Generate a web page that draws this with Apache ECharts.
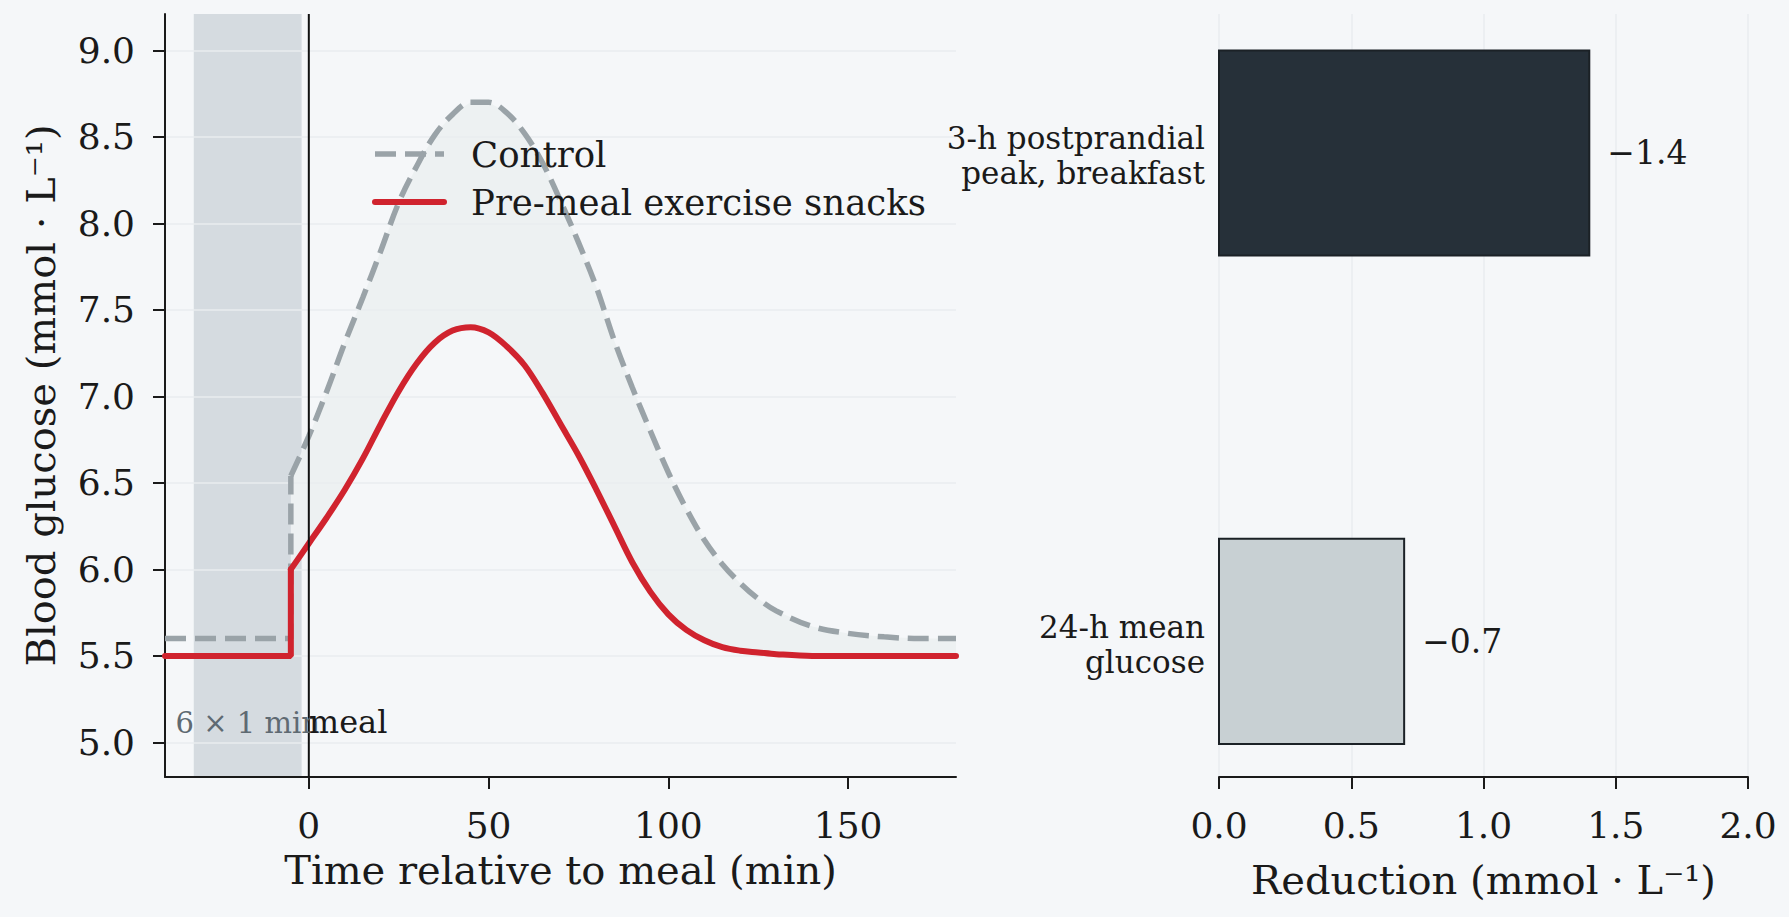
<!DOCTYPE html>
<html><head><meta charset="utf-8">
<script src="https://cdn.jsdelivr.net/npm/echarts@6/dist/echarts.min.js"></script>
<style>html,body{margin:0;padding:0;background:#f5f7f9;}#c{width:1789px;height:917px;}</style>
</head><body><div id="c"></div>
<script>
// ---- data ----
const timeMin = [-40, -5, -5, 0, 5, 10, 15, 20, 25, 30, 35, 40, 45, 50, 55, 60, 65, 70, 75, 80, 85, 90, 95, 100, 105, 110, 115, 120, 125, 130, 140, 150, 160, 170, 180];
const controlGlucose = [5.6, 5.6, 6.54, 6.77, 7.03, 7.31, 7.57, 7.84, 8.12, 8.33, 8.51, 8.63, 8.70, 8.70, 8.64, 8.52, 8.35, 8.13, 7.89, 7.63, 7.32, 7.05, 6.80, 6.56, 6.35, 6.17, 6.03, 5.92, 5.83, 5.76, 5.67, 5.63, 5.61, 5.60, 5.60];
const snacksGlucose = [5.5, 5.5, 6.0, 6.15, 6.30, 6.46, 6.64, 6.84, 7.03, 7.19, 7.31, 7.38, 7.40, 7.37, 7.29, 7.18, 7.02, 6.84, 6.66, 6.46, 6.25, 6.04, 5.87, 5.74, 5.65, 5.59, 5.55, 5.53, 5.52, 5.51, 5.50, 5.50, 5.50, 5.50, 5.50];
const exerciseWindow = [-32, -2];
const mealTime = 0;
const xTicks = [0, 50, 100, 150];
const yTicks = [5.0, 5.5, 6.0, 6.5, 7.0, 7.5, 8.0, 8.5, 9.0];
const seriesNames = ['Control', 'Pre-meal exercise snacks'];
const outcomeLabels = ['3-h postprandial\npeak, breakfast', '24-h mean\nglucose'];
const reductions = [1.4, 0.7];
const reductionLabels = ['\u22121.4', '\u22120.7'];
const reductionTicks = [0, 0.5, 1.0, 1.5, 2.0];

// ---- styles ----
const FONT = 'DejaVu Serif';
const INK = '#1a1a1a';
const GRID = '#e8ecef';
const GREY = '#9aa3a8';
const RED = '#d0232e';
const barColors = ['#263039', '#c8d0d3'];
const BAR_HALF = 0.21;
const JUMP = 2; // index where the post-exercise rise starts

const chart = echarts.init(document.getElementById('c'), null, {renderer: 'svg'});

const pairs = (arr, from, to) => timeMin.slice(from, to).map((t, i) => [t, arr[from + i]]);
const dashStyle = {color: GREY, width: 5.5, type: [21, 9]};
const redStyle = {color: RED, width: 6, cap: 'round'};

const option = {
  backgroundColor: '#f5f7f9',
  animation: false,
  textStyle: {fontFamily: FONT, color: INK},
  grid: [
    {left: 165, top: 14, width: 791, height: 763, outerBoundsMode: 'none', containLabel: false},
    {left: 1219, top: 14, width: 529, height: 763, outerBoundsMode: 'none', containLabel: false}
  ],
  legend: {
    data: [
      {name: seriesNames[0], itemStyle: {opacity: 0}, lineStyle: Object.assign({opacity: 1}, dashStyle)},
      {name: seriesNames[1], itemStyle: {opacity: 0}, lineStyle: Object.assign({opacity: 1}, redStyle)}
    ],
    orient: 'vertical',
    left: 372, top: 136,
    padding: 0,
    itemWidth: 69, itemHeight: 20, itemGap: 12,
    selectedMode: false,
    itemStyle: {opacity: 0},
    textStyle: {fontFamily: FONT, fontSize: 35.5, color: INK, padding: [0, 0, 0, 22], lineHeight: 36}
  },
  xAxis: [
    {
      gridIndex: 0, type: 'value', min: -40, max: 180, z: 1,
      name: 'Time relative to meal (min)', nameLocation: 'middle', nameGap: 73, nameMoveOverlap: false,
      nameTextStyle: {fontFamily: FONT, fontSize: 40, color: INK},
      axisLine: {show: true, onZero: false, lineStyle: {color: INK, width: 2}},
      axisTick: {show: true, length: 12, lineStyle: {color: INK, width: 2}, customValues: xTicks},
      axisLabel: {fontFamily: FONT, fontSize: 36, color: INK, margin: 30, customValues: xTicks},
      splitLine: {show: false}
    },
    {
      gridIndex: 1, type: 'value', min: 0, max: 2, interval: 0.5, z: 1,
      name: 'Reduction (mmol \u00b7 L\u207b\u00b9)', nameLocation: 'middle', nameGap: 83, nameMoveOverlap: false,
      nameTextStyle: {fontFamily: FONT, fontSize: 40, color: INK},
      axisLine: {show: true, onZero: false, lineStyle: {color: INK, width: 2}},
      axisTick: {show: true, length: 12, lineStyle: {color: INK, width: 2}, customValues: reductionTicks},
      axisLabel: {fontFamily: FONT, fontSize: 36, color: INK, margin: 30, customValues: reductionTicks,
                  formatter: v => v.toFixed(1)},
      splitLine: {show: true, lineStyle: {color: GRID, width: 1.5}}
    }
  ],
  yAxis: [
    {
      gridIndex: 0, type: 'value', min: 4.8, max: 9.21, splitNumber: 9, z: 1,
      name: 'Blood glucose (mmol \u00b7 L\u207b\u00b9)', nameLocation: 'middle', nameGap: 104, nameMoveOverlap: false,
      nameTextStyle: {fontFamily: FONT, fontSize: 40, color: INK},
      axisLine: {show: true, onZero: false, lineStyle: {color: INK, width: 2}},
      axisTick: {show: true, length: 12, lineStyle: {color: INK, width: 2}, customValues: yTicks},
      axisLabel: {fontFamily: FONT, fontSize: 36, color: INK, margin: 30, customValues: yTicks,
                  formatter: v => v.toFixed(1)},
      splitLine: {show: true, customValues: yTicks, lineStyle: {color: GRID, width: 1.5}}
    },
    {
      gridIndex: 1, type: 'value', min: -0.2775, max: 1.2845, show: false,
      splitLine: {show: false}
    }
  ],
  series: [
    { // exercise window band
      type: 'custom', xAxisIndex: 0, yAxisIndex: 0, z: 0, silent: true,
      data: [exerciseWindow],
      renderItem: (params, api) => {
        const cs = params.coordSys;
        const a = api.coord([exerciseWindow[0], 7]);
        const b = api.coord([exerciseWindow[1], 7]);
        return {type: 'rect', shape: {x: a[0], y: cs.y, width: b[0] - a[0], height: cs.height},
                style: {fill: '#d5dbe0'}};
      }
    },
    { // fill between curves
      type: 'custom', xAxisIndex: 0, yAxisIndex: 0, z: 0.5, silent: true,
      data: [[mealTime, 7]],
      renderItem: (params, api) => {
        const pts = [];
        for (let i = 1; i < timeMin.length; i++) pts.push(api.coord([timeMin[i], controlGlucose[i]]));
        for (let i = timeMin.length - 1; i >= 1; i--) pts.push(api.coord([timeMin[i], snacksGlucose[i]]));
        return {type: 'polygon', shape: {points: pts, smooth: 0}, style: {fill: '#edf1f2'}};
      }
    },
    {
      name: seriesNames[0], type: 'line', xAxisIndex: 0, yAxisIndex: 0, z: 3,
      data: pairs(controlGlucose, 0, JUMP + 1), symbol: 'none', smooth: false,
      itemStyle: {color: GREY}, lineStyle: dashStyle
    },
    {
      name: seriesNames[0], type: 'line', xAxisIndex: 0, yAxisIndex: 0, z: 3,
      data: pairs(controlGlucose, JUMP, timeMin.length), symbol: 'none', smooth: 0.35,
      itemStyle: {color: GREY}, lineStyle: dashStyle
    },
    {
      name: seriesNames[1], type: 'line', xAxisIndex: 0, yAxisIndex: 0, z: 4,
      data: pairs(snacksGlucose, 0, JUMP + 1), symbol: 'none', smooth: false,
      itemStyle: {color: RED}, lineStyle: redStyle
    },
    {
      name: seriesNames[1], type: 'line', xAxisIndex: 0, yAxisIndex: 0, z: 4,
      data: pairs(snacksGlucose, JUMP, timeMin.length), symbol: 'none', smooth: 0.35,
      itemStyle: {color: RED}, lineStyle: redStyle
    },
    { // meal line + annotations
      type: 'custom', xAxisIndex: 0, yAxisIndex: 0, z: 6, silent: true,
      data: [[mealTime, 7]],
      renderItem: (params, api) => {
        const cs = params.coordSys;
        const m = api.coord([mealTime, 7]);
        const bandMid = api.coord([(exerciseWindow[0] + exerciseWindow[1]) / 2, 5.115]);
        const mealLbl = api.coord([mealTime, 5.12]);
        return {type: 'group', children: [
          {type: 'line', shape: {x1: m[0], y1: cs.y, x2: m[0], y2: cs.y + cs.height},
           style: {stroke: '#111111', lineWidth: 2}},
          {type: 'text', x: bandMid[0], y: bandMid[1],
           style: {text: '6 \u00d7 1 min', fontFamily: FONT, fontSize: 29, fill: '#5f6a72', align: 'center', verticalAlign: 'middle'}},
          {type: 'text', x: mealLbl[0], y: mealLbl[1],
           style: {text: 'meal', fontFamily: FONT, fontSize: 32, fill: INK, align: 'left', verticalAlign: 'middle'}}
        ]};
      }
    },
    { // reduction bars
      type: 'custom', xAxisIndex: 1, yAxisIndex: 1, z: 3, silent: true,
      data: reductions.map((v, i) => [v, reductions.length - 1 - i]),
      encode: {x: 0, y: 1},
      renderItem: (params, api) => {
        const i = params.dataIndex;
        const v = api.value(0), p = api.value(1);
        const a = api.coord([0, p + BAR_HALF]);
        const b = api.coord([v, p - BAR_HALF]);
        const c = api.coord([v, p]);
        const c0 = api.coord([0, p]);
        return {type: 'group', children: [
          {type: 'rect', shape: {x: a[0], y: a[1], width: b[0] - a[0], height: b[1] - a[1]},
           style: {fill: barColors[i], stroke: '#1b2126', lineWidth: 2}},
          {type: 'text', x: c[0] + 18, y: c[1],
           style: {text: reductionLabels[i], fontFamily: FONT, fontSize: 33, fill: INK, align: 'left', verticalAlign: 'middle'}},
          {type: 'text', x: c0[0] - 14, y: c0[1] + 3,
           style: {text: outcomeLabels[i], fontFamily: FONT, fontSize: 31, lineHeight: 35, fill: INK, align: 'right', verticalAlign: 'middle'}}
        ]};
      }
    }
  ]
};
chart.setOption(option);
</script>
</body></html>
